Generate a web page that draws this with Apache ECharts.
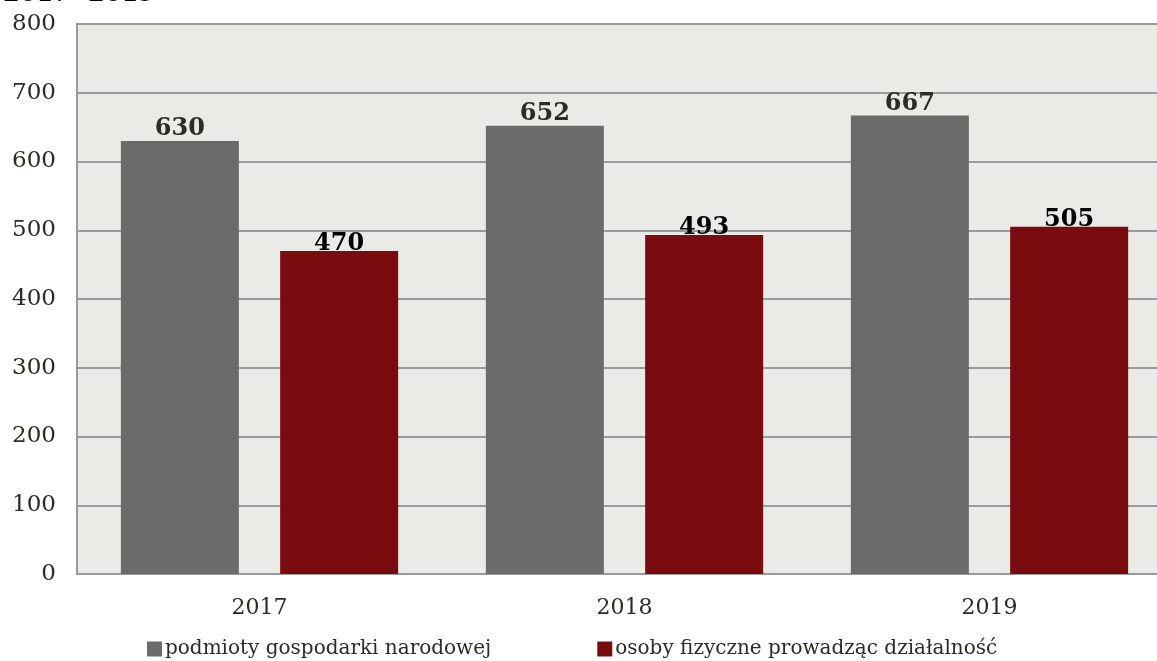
<!DOCTYPE html>
<html>
<head>
    <meta charset="utf-8">
    <script src="https://cdn.jsdelivr.net/npm/echarts@6.0.0/dist/echarts.min.js"></script>
</head>
<body style="margin:0;background:#fff;">
    <div id="main" style="width: 1157px;height:661px;"></div>
    <script type="text/javascript">

var years = ['2017', '2018', '2019'];
var podmioty = [630, 652, 667];
var osoby = [470, 493, 505];
var seriesNames = ['podmioty gospodarki narodowej', 'osoby fizyczne prowadząc działalność'];

var font = 'DejaVu Serif';

var option = {
    animation: false,
    title: {
        text: '2017- 2019',
        left: -2,
        top: -22,
        textStyle: { fontFamily: font, fontSize: 24, fontWeight: 'bold', color: '#000' }
    },
    grid: {
        left: 77,
        right: -15,
        top: 24,
        bottom: 87,
        outerBoundsMode: 'none',
        containLabel: false,
        show: true,
        backgroundColor: '#EAEBE6',
        borderColor: '#9A9A9A',
        borderWidth: 2
    },
    legend: {
        bottom: -3,
        left: 142,
        itemGap: 106,
        itemWidth: 15,
        itemHeight: 15,
        icon: 'rect',
        textStyle: { fontFamily: font, fontSize: 20, color: '#2E2B24', padding: [0, 0, 0, -2] },
        data: seriesNames
    },
    xAxis: {
        type: 'category',
        data: years,
        axisLine: { lineStyle: { color: '#9A9A9A', width: 2 } },
        axisTick: { show: false },
        axisLabel: { fontFamily: font, fontSize: 22, color: '#2E2B24', margin: 23 }
    },
    yAxis: {
        type: 'value',
        min: 0,
        max: 800,
        interval: 100,
        axisLine: { show: true, lineStyle: { color: '#9A9A9A', width: 2 } },
        axisLabel: { fontFamily: font, fontSize: 23, color: '#2E2B24', margin: 21 },
        splitLine: { lineStyle: { color: '#9A9A9A', width: 2 } }
    },
    series: [
        {
            name: seriesNames[0],
            type: 'bar',
            barWidth: 118,
            barGap: '35%',
            itemStyle: { color: '#6B6B6B' },
            label: {
                show: true, position: 'top', distance: 0,
                fontFamily: font, fontSize: 24, fontWeight: 'bold', color: '#2E2B24'
            },
            data: podmioty
        },
        {
            name: seriesNames[1],
            type: 'bar',
            barWidth: 118,
            itemStyle: { color: '#7A0C10' },
            label: {
                show: true, position: 'top', distance: -5,
                fontFamily: font, fontSize: 24, fontWeight: 'bold', color: '#000'
            },
            data: osoby
        }
    ]
};

var myChart = echarts.init(document.getElementById('main'));
myChart.setOption(option);
    </script>
</body>
</html>
